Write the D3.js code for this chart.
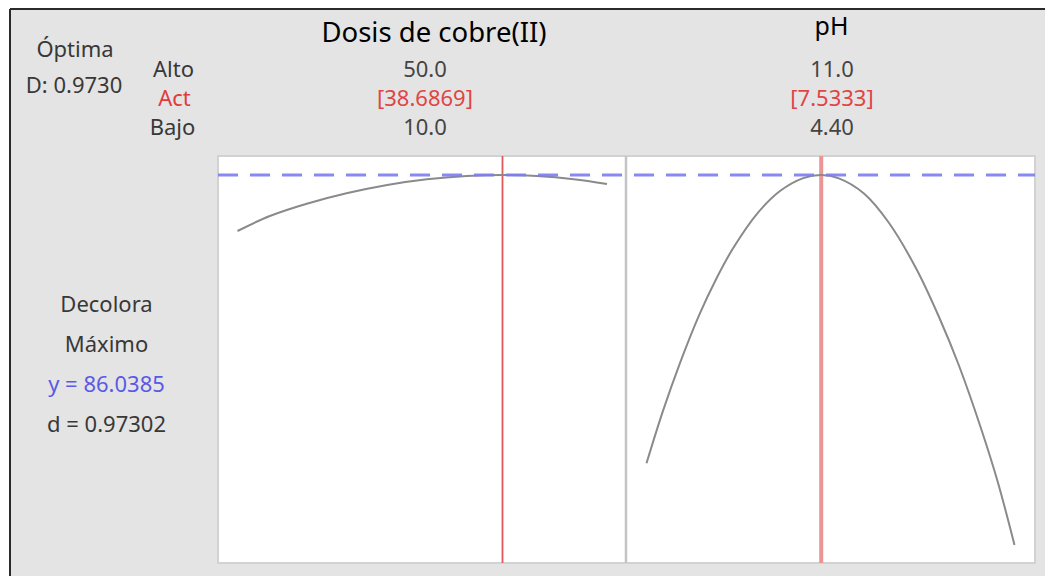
<!DOCTYPE html>
<html>
<head>
<meta charset="utf-8">
<script src="https://cdn.jsdelivr.net/npm/d3@7"></script>
<style>
  html, body { margin: 0; padding: 0; background: #ffffff; }
  svg { display: block; }
  text { font-family: "Noto Sans", "Open Sans", sans-serif; }
</style>
</head>
<body>
<script>
// Factor settings for the optimizer
const factorNames = ["Dosis de cobre(II)", "pH"];
const factorHigh = ["50.0", "11.0"];
const factorCurrent = ["[38.6869]", "[7.5333]"];
const factorLow = ["10.0", "4.40"];
const factorMin = [10, 4.4];
const factorMax = [50, 11];
const factorOpt = [38.6869, 7.5333];

// Predicted response (Decolora) traced along each factor
const doseX = [10, 13.5, 17.5, 21.8, 26.2, 30.5, 34.8, 38.6869, 42.4, 46.4, 50];
const doseY = [77.29, 79.63, 81.55, 83.18, 84.48, 85.37, 85.88, 86.0385, 85.88, 85.38, 84.63];
const phX = [4.4, 4.7, 5.0, 5.35, 5.65, 5.95, 6.4, 6.8, 7.2, 7.5333, 7.85, 8.3, 8.75, 9.25, 9.65, 10.0, 10.4, 10.7, 11.0];
const phY = [40.99, 49.29, 56.66, 64.27, 69.80, 74.55, 80.16, 83.57, 85.52, 86.0385, 85.52, 83.15, 78.54, 71.2, 63.77, 56.35, 46.43, 38.07, 28.23];

const responseY = 86.0385;
const optLabel = "Óptima";
const overallD = "D: 0.9730";
const responseLines = ["Decolora", "Máximo", "y = 86.0385", "d = 0.97302"];
const rowLabels = ["Alto", "Act", "Bajo"];

const W = 1045, H = 576;
const svg = d3.select("body").append("svg").attr("width", W).attr("height", H);

// Window frame
svg.append("rect").attr("x", 10).attr("y", 9).attr("width", W - 10).attr("height", H - 9).attr("fill", "#e4e4e4");
svg.append("line").attr("x1", 10).attr("x2", W).attr("y1", 9).attr("y2", 9).attr("stroke", "#2a2a2a").attr("stroke-width", 2);
svg.append("line").attr("x1", 10).attr("x2", 10).attr("y1", 9).attr("y2", H).attr("stroke", "#2a2a2a").attr("stroke-width", 2);

// Panels
const panelTop = 156, panelBottom = 563;
const panels = [{ x0: 218, x1: 626 }, { x0: 626, x1: 1035 }];
const xRanges = [[237.5, 607], [646.5, 1014.5]];
const y = d3.scaleLinear().domain([28, 88]).range([175 + 58.0385 * 6.4, 175 - 1.9615 * 6.4]);

panels.forEach(p => {
  svg.append("rect").attr("x", p.x0).attr("y", panelTop).attr("width", p.x1 - p.x0).attr("height", panelBottom - panelTop)
    .attr("fill", "#ffffff").attr("stroke", "#d2d2d2").attr("stroke-width", 2);
});
svg.append("line").attr("x1", 626).attr("x2", 626).attr("y1", panelTop).attr("y2", panelBottom).attr("stroke", "#c4c4c4").attr("stroke-width", 2.5);

const series = [[doseX, doseY], [phX, phY]];
const redStyles = [{ c: "#e05a5a", w: 1.8 }, { c: "#eb9595", w: 4 }];

series.forEach((s, i) => {
  const x = d3.scaleLinear().domain([factorMin[i], factorMax[i]]).range(xRanges[i]);
  const pts = s[0].map((v, k) => [v, s[1][k]]);
  const line = d3.line().x(d => x(d[0])).y(d => y(d[1])).curve(d3.curveCatmullRom.alpha(0.5));
  // current setting
  svg.append("line").attr("x1", x(factorOpt[i])).attr("x2", x(factorOpt[i]))
    .attr("y1", panelTop).attr("y2", panelBottom)
    .attr("stroke", redStyles[i].c).attr("stroke-width", redStyles[i].w);
  svg.append("path").attr("d", line(pts)).attr("fill", "none").attr("stroke", "#8a8a8a").attr("stroke-width", 2);
});

// Predicted response reference line across both panels
svg.append("line").attr("x1", 218).attr("x2", 1035).attr("y1", y(responseY)).attr("y2", y(responseY))
  .attr("stroke", "#7d7df0").attr("stroke-width", 3).attr("stroke-dasharray", "20,12").attr("opacity", 0.9);

// Header labels
const small = 22;
const dark = "#383838";
svg.append("text").attr("x", 75).attr("y", 57).attr("text-anchor", "middle").attr("font-size", small).attr("fill", dark).text(optLabel);
svg.append("text").attr("x", 74).attr("y", 93).attr("text-anchor", "middle").attr("font-size", small).attr("fill", dark).text(overallD);

const rowY = [77, 106, 135];
const rowColor = [dark, "#e03c3c", dark];
const rowX = [173.5, 174.5, 172.5];
rowLabels.forEach((t, i) => {
  svg.append("text").attr("x", rowX[i]).attr("y", rowY[i]).attr("text-anchor", "middle").attr("font-size", small).attr("fill", rowColor[i]).text(t);
});

const colX = [425, 832];
const titleX = [434, 831.5];
const titleY = [42, 35];
const titleSize = [27.5, 25];
factorNames.forEach((n, i) => {
  svg.append("text").attr("x", titleX[i]).attr("y", titleY[i]).attr("text-anchor", "middle").attr("font-size", titleSize[i]).attr("fill", "#000").text(n);
  svg.append("text").attr("x", colX[i]).attr("y", rowY[0]).attr("text-anchor", "middle").attr("font-size", small).attr("fill", "#444").text(factorHigh[i]);
  svg.append("text").attr("x", colX[i]).attr("y", rowY[1]).attr("text-anchor", "middle").attr("font-size", small).attr("fill", "#e04444").text(factorCurrent[i]);
  svg.append("text").attr("x", colX[i]).attr("y", rowY[2]).attr("text-anchor", "middle").attr("font-size", small).attr("fill", "#444").text(factorLow[i]);
});

const respY = [312, 352, 392, 432];
const respColor = [dark, dark, "#5a5ae6", dark];
responseLines.forEach((t, i) => {
  svg.append("text").attr("x", 106.5).attr("y", respY[i]).attr("text-anchor", "middle").attr("font-size", small).attr("fill", respColor[i]).text(t);
});
</script>
</body>
</html>
